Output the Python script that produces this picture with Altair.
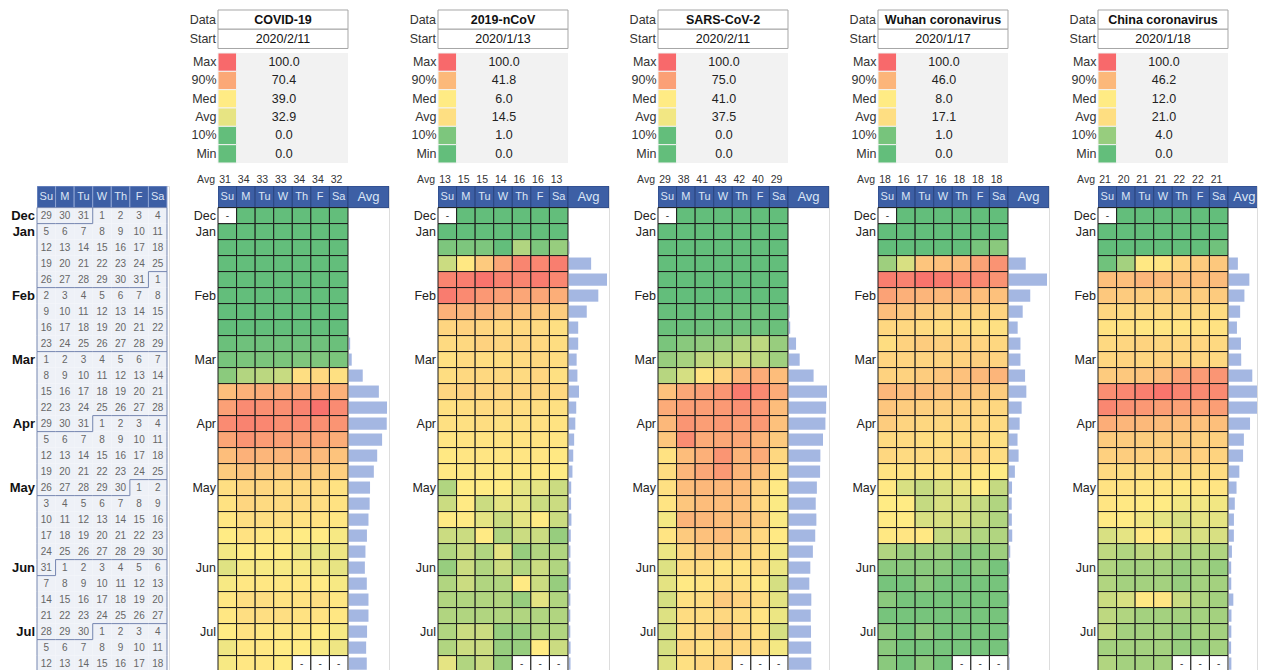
import altair as alt
import pandas as pd
import numpy as np

FONT = "Liberation Sans"

# ---------------- data ----------------
day_names = ["Su", "M", "Tu", "W", "Th", "F", "Sa"]
cal_start = "2019-12-29"
n_weeks = 29
month_labels = ["Dec", "Jan", "Feb", "Mar", "Apr", "May", "Jun", "Jul"]
month_label_rows = [0, 1, 5, 9, 13, 17, 22, 26]

terms = ["COVID-19", "2019-nCoV", "SARS-CoV-2", "Wuhan coronavirus", "China coronavirus"]
start_dates = ["2020/2/11", "2020/1/13", "2020/2/11", "2020/1/17", "2020/1/18"]
stat_names = ["Max", "90%", "Med", "Avg", "10%", "Min"]

stats_covid19 = [100.0, 70.4, 39.0, 32.9, 0.0, 0.0]
stats_ncov = [100.0, 41.8, 6.0, 14.5, 1.0, 0.0]
stats_sars = [100.0, 75.0, 41.0, 37.5, 0.0, 0.0]
stats_wuhan = [100.0, 46.0, 8.0, 17.1, 1.0, 0.0]
stats_china = [100.0, 46.2, 12.0, 21.0, 4.0, 0.0]

colavg_covid19 = [31, 34, 33, 33, 34, 34, 32]
colavg_ncov = [13, 15, 15, 14, 16, 16, 13]
colavg_sars = [29, 38, 41, 43, 42, 40, 29]
colavg_wuhan = [18, 16, 17, 16, 18, 18, 18]
colavg_china = [21, 20, 21, 21, 22, 22, 21]

N = None
days_covid19 = [
    [N, 0, 0, 0, 0, 0, 0], [0, 0, 0, 0, 0, 0, 0], [0, 0, 0, 0, 0, 0, 0],
    [0, 0, 0, 0, 0, 0, 0], [0, 0, 0, 0, 0, 0, 0], [0, 0, 0, 0, 0, 0, 0],
    [0, 0, 0, 0, 0, 0, 0], [0, 0, 0, 0, 0, 0, 0], [2, 3, 3, 3, 3, 3, 2],
    [5, 6, 6, 6, 7, 7, 6], [10, 20, 22, 25, 45, 48, 44], [60, 66, 68, 68, 68, 68, 66],
    [74, 84, 82, 82, 88, 96, 84], [84, 88, 86, 82, 84, 82, 80], [72, 80, 76, 74, 72, 72, 68],
    [60, 66, 64, 64, 64, 62, 58], [54, 58, 56, 56, 56, 54, 52], [45, 49, 49, 47, 47, 47, 43],
    [43, 49, 47, 47, 47, 45, 43], [41, 45, 45, 45, 43, 43, 41], [39, 43, 41, 41, 39, 39, 37],
    [36, 39, 39, 39, 35, 33, 35], [31, 37, 37, 37, 37, 35, 33], [37, 41, 41, 41, 41, 39, 37],
    [41, 45, 45, 43, 43, 45, 41], [41, 45, 45, 45, 43, 43, 41], [39, 43, 41, 41, 41, 39, 37],
    [35, 41, 41, 39, 39, 37, 35], [37, 41, 41, 39, N, N, N],
]
days_ncov = [
    [N, 0, 0, 0, 0, 0, 0], [0, 0, 0, 0, 0, 0, 0], [1, 1, 1, 0, 3, 1, 2],
    [4, 8, 30, 55, 80, 78, 85], [80, 85, 92, 82, 80, 86, 78], [86, 76, 66, 60, 56, 56, 50],
    [48, 45, 45, 40, 35, 32, 28], [22, 25, 22, 20, 20, 18, 15], [18, 20, 24, 22, 22, 20, 16],
    [14, 18, 16, 16, 18, 20, 16], [16, 20, 20, 20, 18, 22, 14], [22, 24, 22, 22, 22, 22, 20],
    [14, 16, 18, 18, 16, 16, 14], [14, 14, 16, 14, 14, 14, 12], [10, 12, 12, 12, 12, 12, 10],
    [8, 10, 10, 10, 10, 10, 8], [8, 8, 8, 8, 8, 8, 6], [3, 6, 6, 6, 5, 5, 4],
    [4, 7, 4, 5, 5, 4, 4], [7, 7, 5, 4, 5, 6, 4], [4, 4, 7, 3, 4, 4, 2],
    [3, 4, 3, 5, 2, 3, 3], [2, 4, 3, 4, 3, 4, 3], [3, 4, 3, 3, 7, 4, 2],
    [3, 3, 3, 3, 2, 5, 3], [3, 3, 3, 3, 3, 3, 3], [3, 4, 4, 2, 2, 3, 3],
    [3, 4, 4, 2, 2, 6, 4], [5, 3, 4, 2, N, N, N],
]
days_sars = [
    [N, 0, 0, 0, 0, 0, 0], [0, 0, 0, 0, 0, 0, 0], [0, 0, 0, 0, 0, 0, 0],
    [0, 0, 0, 0, 0, 0, 0], [0, 0, 0, 0, 0, 0, 0], [0, 0, 0, 0, 0, 0, 0],
    [1, 1, 1, 2, 2, 2, 1], [2, 2, 3, 3, 3, 3, 2], [6, 10, 12, 14, 20, 24, 14],
    [14, 18, 25, 26, 28, 24, 16], [22, 30, 45, 52, 65, 70, 62], [60, 72, 75, 80, 92, 85, 70],
    [70, 76, 76, 78, 82, 78, 62], [64, 80, 76, 78, 76, 78, 60], [58, 84, 70, 72, 72, 66, 56],
    [45, 62, 68, 80, 66, 70, 50], [48, 65, 72, 78, 66, 62, 46], [46, 62, 64, 64, 62, 52, 42],
    [44, 58, 62, 62, 60, 50, 40], [38, 66, 64, 62, 60, 55, 40], [44, 56, 60, 62, 55, 50, 42],
    [36, 50, 56, 56, 52, 48, 38], [32, 48, 48, 44, 44, 48, 36], [34, 42, 44, 48, 46, 42, 30],
    [30, 46, 48, 56, 52, 48, 34], [32, 48, 48, 50, 48, 44, 36], [30, 48, 50, 56, 50, 46, 30],
    [30, 50, 46, 50, 50, 48, 38], [32, 46, 50, 52, N, N, N],
]
days_wuhan = [
    [N, 0, 0, 0, 0, 0, 0], [0, 0, 0, 0, 0, 0, 0], [0, 0, 0, 0, 0, 1, 2],
    [3, 6, 35, 38, 42, 60, 70], [85, 82, 92, 88, 80, 78, 70], [60, 50, 46, 44, 44, 40, 38],
    [40, 34, 30, 28, 26, 26, 24], [22, 22, 20, 18, 18, 16, 16], [18, 26, 30, 28, 26, 24, 22],
    [24, 24, 24, 24, 26, 28, 24], [26, 26, 30, 34, 38, 44, 46], [45, 40, 40, 38, 36, 34, 30],
    [34, 30, 28, 28, 26, 24, 22], [30, 24, 22, 22, 22, 22, 20], [20, 20, 18, 18, 18, 20, 16],
    [22, 20, 20, 20, 24, 22, 18], [14, 14, 14, 14, 14, 12, 8], [10, 6, 5, 6, 7, 8, 5],
    [8, 8, 5, 6, 6, 5, 4], [9, 8, 6, 6, 6, 5, 4], [10, 12, 10, 5, 5, 4, 4],
    [4, 3, 3, 3, 2, 2, 3], [2, 2, 2, 2, 1, 2, 1], [1, 1, 2, 1, 1, 1, 1],
    [2, 1, 1, 1, 1, 1, 1], [1, 1, 1, 1, 1, 1, 1], [2, 1, 2, 1, 1, 1, 1],
    [2, 1, 1, 1, 1, 1, 1], [2, 1, 2, 1, N, N, N],
]
days_china = [
    [N, 0, 0, 0, 0, 0, 0], [0, 0, 0, 0, 0, 0, 0], [0, 0, 0, 0, 0, 0, 1],
    [1, 5, 14, 16, 28, 34, 36], [42, 42, 48, 46, 42, 42, 44], [36, 34, 32, 32, 32, 32, 34],
    [26, 24, 24, 24, 24, 24, 22], [18, 18, 16, 16, 16, 18, 18], [24, 26, 28, 26, 26, 26, 24],
    [26, 28, 26, 28, 26, 26, 24], [34, 36, 38, 44, 62, 66, 70], [75, 80, 85, 92, 82, 78, 78],
    [80, 72, 68, 64, 62, 60, 64], [54, 48, 46, 44, 42, 40, 42], [34, 34, 32, 32, 32, 30, 30],
    [30, 32, 30, 30, 32, 30, 28], [24, 22, 22, 22, 22, 22, 22], [18, 18, 16, 16, 14, 16, 16],
    [16, 14, 13, 12, 11, 11, 11], [13, 12, 11, 10, 9, 10, 10], [9, 10, 14, 14, 9, 9, 9],
    [7, 6, 7, 7, 6, 6, 6], [6, 5, 5, 5, 4, 5, 4], [6, 5, 5, 5, 4, 5, 5],
    [8, 9, 14, 16, 8, 6, 5], [7, 6, 5, 5, 5, 5, 5], [7, 5, 5, 5, 4, 5, 5],
    [5, 5, 5, 5, 4, 4, 5], [6, 5, 5, 5, N, N, N],
]

panel_stats = [stats_covid19, stats_ncov, stats_sars, stats_wuhan, stats_china]
panel_colavg = [colavg_covid19, colavg_ncov, colavg_sars, colavg_wuhan, colavg_china]
panel_days = [days_covid19, days_ncov, days_sars, days_wuhan, days_china]

# ---------------- layout / style ----------------
GREEN, YELLOW, RED = "#63BE7B", "#FFEB84", "#F8696B"
HEAD_BLUE = "#3D5FA5"
HEAD_TXT = "#DCE5F5"
BAR_BLUE = "#A4B7E2"
COLW = 130 / 7
ROWH = 16
GRID_W = 130
AVG_W = 41
PANEL_W = GRID_W + AVG_W
LAST_W = 159          # last panel is cut by the page edge, as in the reference
HEAD_ROWS = 1.35
Y_END = 29.0
VIEW_H = (HEAD_ROWS + Y_END) * ROWH
CAL_W = 132

ys = alt.Scale(domain=[-HEAD_ROWS, Y_END], nice=False, zero=False, reverse=True)


def X(f, xs):
    return alt.X(f, type="quantitative", scale=xs, axis=None)


def Y(f):
    return alt.Y(f, type="quantitative", scale=ys, axis=None)


month_df = pd.DataFrame({"m": month_labels, "row": month_label_rows})
month_df["yc"] = month_df["row"] + 0.5


def header_layers(xs, sep_color, with_avg, avg_end=None, vis_end=None):
    hd = pd.DataFrame({"name": day_names, "x0": range(7)})
    hd["x1"] = hd["x0"] + 1
    hd["xc"] = hd["x0"] + 0.5
    if with_avg:
        avg_c = min((7 + avg_end) / 2, vis_end - 0.68)
        hd = pd.concat([hd, pd.DataFrame({"name": ["Avg"], "x0": [7], "x1": [avg_end],
                                          "xc": [avg_c]})], ignore_index=True)
    hd["y0"] = -HEAD_ROWS
    hd["y1"] = 0
    hd["yc"] = -HEAD_ROWS / 2
    hd["fs"] = np.where(hd["name"] == "Avg", 13, 11)
    base = alt.Chart(hd)
    r = base.mark_rect(fill=HEAD_BLUE, stroke=sep_color, strokeWidth=1, clip=True).encode(
        x=X("x0", xs), x2="x1", y=Y("y0"), y2="y1")
    t = base.mark_text(color=HEAD_TXT, baseline="middle").encode(
        x=X("xc", xs), y=Y("yc"), text="name:N",
        size=alt.Size("fs:Q", scale=None, legend=None))
    return [r, t]


# ---------------- calendar ----------------
dates = pd.date_range(cal_start, periods=n_weeks * 7, freq="D")
cal = pd.DataFrame({"date": dates})
cal["week"] = np.arange(len(cal)) // 7
cal["day"] = np.arange(len(cal)) % 7
cal["num"] = cal["date"].dt.day
cal["month"] = cal["date"].dt.month
cal["x0"] = cal["day"]
cal["x1"] = cal["day"] + 1
cal["y0"] = cal["week"]
cal["y1"] = cal["week"] + 1
cal["xc"] = cal["day"] + 0.5
cal["yc"] = cal["week"] + 0.5
cal = cal.drop(columns=["date"])

segs = []
mon = cal["month"].tolist()
for i in range(len(cal)):
    w, d, m = i // 7, i % 7, mon[i]
    if w == 0 or mon[i - 7] != m:
        segs.append((d, d + 1, w, w))
    if d == 0 or mon[i - 1] != m:
        segs.append((d, d, w, w + 1))
    if d == 6:
        segs.append((7, 7, w, w + 1))
seg_df = pd.DataFrame(segs, columns=["x0", "x1", "y0", "y1"])

xs_cal = alt.Scale(domain=[0, CAL_W / COLW], nice=False, zero=False)
cb = alt.Chart(cal)
cal_layers = header_layers(xs_cal, "#8CA2D2", False) + [
    cb.mark_rect(fill="#EEF1F7").encode(x=X("x0", xs_cal), x2="x1", y=Y("y0"), y2="y1"),
    cb.mark_text(fontSize=10, color="#666666", baseline="middle").encode(
        x=X("xc", xs_cal), y=Y("yc"), text="num:Q"),
    alt.Chart(seg_df).mark_rule(color="#7486B0", strokeWidth=1).encode(
        x=X("x0", xs_cal), x2="x1", y=Y("y0"), y2="y1"),
    alt.Chart(month_df).mark_text(fontSize=13, fontWeight="bold", color="#111111",
                                  align="right", baseline="middle").encode(
        x=alt.value(-2), y=Y("yc"), text="m:N"),
]
cal_chart = alt.layer(*cal_layers).properties(width=CAL_W, height=VIEW_H)


# ---------------- panels ----------------
def make_panel(term, start, stats, colavg, grid, view_w):
    x_end = view_w / COLW
    avg_end = PANEL_W / COLW
    xs = alt.Scale(domain=[0, x_end], nice=False, zero=False)
    cscale = alt.Scale(domain=[stats[5], stats[2], stats[0]], range=[GREEN, YELLOW, RED],
                       interpolate="rgb")
    recs = [{"week": w, "day": d, "v": (np.nan if v is None else float(v))}
            for w, row in enumerate(grid) for d, v in enumerate(row)]
    df = pd.DataFrame(recs)
    df["x0"] = df["day"]
    df["x1"] = df["day"] + 1
    df["y0"] = df["week"]
    df["y1"] = df["week"] + 1
    df["xc"] = df["day"] + 0.5
    df["yc"] = df["week"] + 0.5
    df["dash"] = "-"

    wk = df.groupby("week")["v"].mean().reset_index()
    wk["b0"] = 7.05
    wk["b1"] = 7.05 + 2.05 * wk["v"] / wk["v"].max()
    wk["y0"] = wk["week"] + 0.12
    wk["y1"] = wk["week"] + 0.88

    ca = pd.DataFrame({"a": colavg, "day": range(7)})
    ca["xc"] = ca["day"] + 0.38

    st = pd.DataFrame({"name": stat_names, "value": stats})
    st["txt"] = [f"{v:.1f}" for v in stats]
    sscale = alt.Scale(type="band", domain=stat_names, range=[-133, -23],
                       paddingInner=0, paddingOuter=0)

    info = pd.DataFrame({"name": ["Data", "Start"], "txt": [term, start]})
    iscale = alt.Scale(type="band", domain=["Data", "Start"], range=[-176, -137.5],
                       paddingInner=0, paddingOuter=0)
    one = pd.DataFrame({"k": [0]})

    base = alt.Chart(df)
    valid = base.transform_filter("isValid(datum.v)")
    missing = base.transform_filter("!isValid(datum.v)")
    ib = alt.Chart(info)
    sb = alt.Chart(st)

    layers = [
        ib.mark_rect(fill="white", stroke="#A6A6A6", strokeWidth=1).encode(
            x=alt.value(0), x2=alt.value(GRID_W),
            y=alt.Y("name:N", scale=iscale, axis=None)),
        ib.transform_filter("datum.name == 'Data'").mark_text(
            fontSize=12.5, fontWeight="bold", color="#111111", baseline="middle").encode(
            x=alt.value(GRID_W / 2), y=alt.Y("name:N", scale=iscale, axis=None), text="txt:N"),
        ib.transform_filter("datum.name == 'Start'").mark_text(
            fontSize=12.5, color="#111111", baseline="middle").encode(
            x=alt.value(GRID_W / 2), y=alt.Y("name:N", scale=iscale, axis=None), text="txt:N"),
        ib.mark_text(fontSize=12.5, color="#333333", align="right", baseline="middle").encode(
            x=alt.value(-2), y=alt.Y("name:N", scale=iscale, axis=None), text="name:N"),
        alt.Chart(one).mark_rect(fill="#F2F2F2").encode(
            x=alt.value(0), x2=alt.value(GRID_W), y=alt.value(-133), y2=alt.value(-23)),
        sb.mark_rect(stroke="#F2F2F2", strokeWidth=1).encode(
            x=alt.value(0), x2=alt.value(COLW),
            y=alt.Y("name:N", scale=sscale, axis=None),
            color=alt.Color("value:Q", scale=cscale, legend=None)),
        sb.mark_text(fontSize=12.5, color="#333333", align="right", baseline="middle").encode(
            x=alt.value(-1.5), y=alt.Y("name:N", scale=sscale, axis=None), text="name:N"),
        sb.mark_text(fontSize=12.5, color="#222222", baseline="middle").encode(
            x=alt.value(66), y=alt.Y("name:N", scale=sscale, axis=None), text="txt:N"),
        alt.Chart(one).mark_text(text="Avg", fontSize=10.5, color="#333333", align="right",
                                 baseline="middle").encode(x=alt.value(-3), y=alt.value(-6)),
        alt.Chart(ca).mark_text(fontSize=10.5, color="#333333", baseline="middle").encode(
            x=X("xc", xs), y=alt.value(-6), text="a:Q"),
    ] + header_layers(xs, "#2A4580", True, avg_end, x_end) + [
        valid.mark_rect(stroke="#1A1A1A", strokeWidth=1).encode(
            x=X("x0", xs), x2="x1", y=Y("y0"), y2="y1",
            color=alt.Color("v:Q", scale=cscale, legend=None)),
        missing.mark_rect(fill="white", stroke="#1A1A1A", strokeWidth=1).encode(
            x=X("x0", xs), x2="x1", y=Y("y0"), y2="y1"),
        missing.mark_text(fontSize=10, color="#333333", baseline="middle").encode(
            x=X("xc", xs), y=Y("yc"), text="dash:N"),
        alt.Chart(month_df).mark_text(fontSize=12.5, color="#222222", align="right",
                                      baseline="middle").encode(
            x=alt.value(-2), y=Y("yc"), text="m:N"),
        alt.Chart(wk).mark_rect(fill=BAR_BLUE, clip=True).encode(
            x=X("b0", xs), x2="b1", y=Y("y0"), y2="y1"),
    ]
    return alt.layer(*layers).resolve_scale(y="independent").properties(
        width=view_w, height=VIEW_H)


panels = [make_panel(terms[i], start_dates[i], panel_stats[i], panel_colavg[i], panel_days[i],
                     PANEL_W if i < 4 else LAST_W)
          for i in range(5)]

chart = alt.hconcat(cal_chart, *panels, spacing=49, bounds="flush").resolve_scale(
    color="independent", x="independent", y="independent"
).properties(
    padding={"left": 1, "top": 1, "right": 0, "bottom": 0}
).configure_view(stroke=None).configure(font=FONT)

chart.save("out.html", embed_options={"renderer": "svg", "actions": False})
